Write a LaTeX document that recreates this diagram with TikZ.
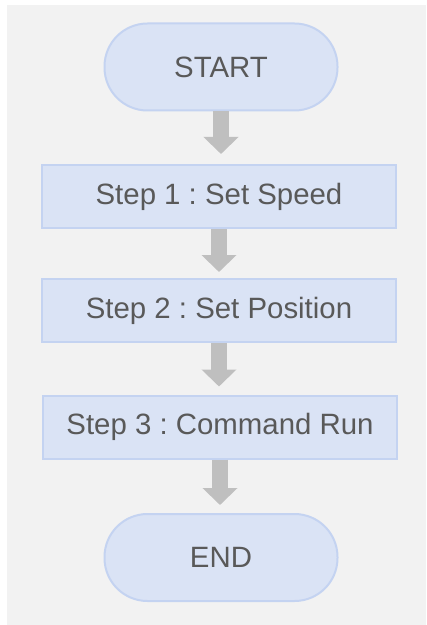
\documentclass[tikz,border=0pt]{standalone}
\usepackage{fontspec}
\setmainfont{Liberation Sans}
\usepackage{tikz}
\usepackage{xcolor}
\usetikzlibrary{
    arrows.meta,
    calc
}
\frenchspacing
\definecolor{pagegray}{HTML}{F2F2F2}
\definecolor{boxfill}{HTML}{DAE3F5}
\definecolor{boxline}{HTML}{C4D3F1}
\definecolor{textgray}{HTML}{595959}
\definecolor{arrowgray}{HTML}{BFBFBF}
\tikzset{
    terminal/.style={draw=boxline, fill=boxfill, line width=2bp, rounded corners=43bp,
        minimum width=233bp, minimum height=87bp, inner sep=0pt, text=textgray,
        font=\fontsize{29.5}{35}\selectfont},
    stepbox/.style={draw=boxline, fill=boxfill, line width=2bp,
        minimum width=354bp, minimum height=63bp, inner sep=0pt, text=textgray,
        font=\fontsize{29.5}{35}\selectfont},
    flowarrow/.style={arrowgray, line width=16bp, shorten >=8bp,
        -{Triangle[width=34bp, length=17bp]}}
}

\begin{document}
\begin{tikzpicture}[x=1bp, y=-1bp]
    \useasboundingbox (0, 0) rectangle (426, 625);
    \fill[pagegray] (7, 5) rectangle (426, 625);
    % flow nodes
    \node[terminal] (start) at (221, 67) {START};
    \node[stepbox] (speed) at (219, 196.5) {Step 1 : Set Speed};
    \node[stepbox] (position) at (219, 310.5) {Step 2 : Set Position};
    \node[stepbox] (run) at (220, 427) {Step 3 : Command Run};
    \node[terminal] (end) at (221, 557.5) {END};
    % arrows
    \draw[flowarrow, shorten >=10bp] (start.south) -- (start.south |- speed.north);
    \draw[flowarrow, shorten >=6bp] (speed.south) -- (speed.south |- position.north);
    \draw[flowarrow] (position.south) -- (position.south |- run.north);
    \draw[flowarrow] (run.south) -- (run.south |- end.north);
\end{tikzpicture}
\end{document}
